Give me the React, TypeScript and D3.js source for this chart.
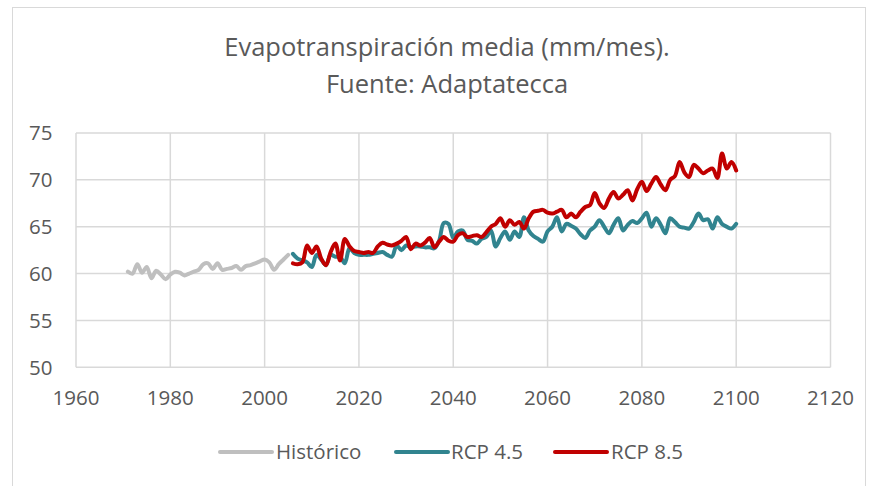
import React from "react";
import * as d3 from "d3";

const title1 = "Evapotranspiración media (mm/mes).";
const title2 = "Fuente: Adaptatecca";

const xTicks = [1960, 1980, 2000, 2020, 2040, 2060, 2080, 2100, 2120];
const yTicks = [50, 55, 60, 65, 70, 75];

const histStart = 1971;
const historico = [
  60.2, 60.0, 61.0, 60.1, 60.7, 59.5, 60.3, 59.9, 59.4, 59.9,
  60.2, 60.1, 59.8, 60.0, 60.2, 60.4, 61.0, 61.1, 60.5, 61.1,
  60.4, 60.5, 60.6, 60.8, 60.4, 60.8, 60.9, 61.1, 61.3, 61.5,
  61.2, 60.4, 61.0, 61.5, 62.0,
];

const rcpStart = 2006;
const rcp45 = [
  62.1, 61.6, 61.4, 61.2, 60.7, 62.0, 61.5, 60.9, 62.0, 61.8,
  61.8, 61.1, 62.7, 62.2, 62.0, 62.0, 62.0, 62.1, 62.2, 62.3,
  62.0, 61.8, 63.0, 62.5, 63.0, 62.8, 62.9, 62.9, 62.8, 62.8,
  62.7, 63.5, 65.4, 65.3, 63.8, 64.5, 64.6, 63.6, 63.5, 63.2,
  63.7, 63.9, 64.6, 62.9, 63.8, 64.5, 63.6, 64.5, 63.9, 66.0,
  64.6, 64.0, 63.7, 63.4, 64.5, 65.0, 66.0, 64.5, 65.3, 65.1,
  64.8, 64.2, 63.8, 64.6, 65.0, 65.7, 65.0, 64.3, 65.2, 65.9,
  64.6, 65.2, 65.6, 65.4, 65.9, 66.5, 65.0, 65.9, 65.2, 64.3,
  65.9, 65.5, 65.0, 64.9, 64.8, 65.5, 66.4, 65.7, 65.8, 64.8,
  66.0, 65.3, 65.0, 64.8, 65.3,
];
const rcp85 = [
  61.1, 61.0, 61.2, 63.0, 62.2, 62.9, 61.6, 60.9, 62.3, 63.2,
  61.4, 63.7, 62.9, 62.4, 62.3, 62.2, 62.3, 62.2, 62.9, 63.3,
  63.1, 63.0, 63.2, 63.5, 63.9, 62.6, 63.2, 63.0, 63.3, 63.8,
  62.8, 63.4, 63.9, 63.5, 63.4, 64.1, 64.3, 63.9, 64.0, 64.1,
  63.9, 64.4, 65.0, 65.3, 65.9, 65.0, 65.7, 65.2, 65.5, 64.8,
  65.9, 66.6, 66.7, 66.8, 66.5, 66.4, 66.6, 66.8, 66.0, 66.4,
  66.0, 66.6, 67.1, 67.3, 68.6, 67.5, 67.0, 68.0, 68.7, 68.0,
  68.4, 68.9, 67.8, 69.0, 69.8, 68.8, 69.6, 70.3, 69.5, 68.9,
  70.0, 70.4, 71.9, 70.8, 70.3, 71.6, 71.2, 70.7, 71.0, 71.2,
  70.2, 72.8, 71.2, 71.9, 71.0,
];

const seriesNames = ["Histórico", "RCP 4.5", "RCP 8.5"];
const seriesColors = ["#BFBFBF", "#31848F", "#C00000"];

const W = 870;
const H = 486;
const FONT = "'Open Sans', sans-serif";
const TEXT = "#595959";
const GRID = "#D9D9D9";

export default function App() {
  const x = d3.scaleLinear().domain([1960, 2120]).range([76, 830.5]);
  const y = d3.scaleLinear().domain([50, 75]).range([367.3, 133]);

  const toPts = (start: number, vals: number[]) =>
    vals.map((v, i) => [start + i, v] as [number, number]);

  const data = [
    toPts(histStart, historico),
    toPts(rcpStart, rcp45),
    toPts(rcpStart, rcp85),
  ];

  const line = d3
    .line<[number, number]>()
    .x((d) => x(d[0]))
    .y((d) => y(d[1]))
    .curve(d3.curveCatmullRom.alpha(0.5));

  const legendItems = [
    { lx: 220, tx: 276 },
    { lx: 396, tx: 451 },
    { lx: 555, tx: 611 },
  ];

  return (
    <svg
      width={W}
      height={H}
      style={{ position: "absolute", left: 0, top: 0, background: "#fff" }}
      fontFamily={FONT}
    >
      <rect x={0} y={0} width={W} height={H} fill="#fff" />
      <rect
        x={12.5}
        y={7.5}
        width={853}
        height={520}
        fill="none"
        stroke={GRID}
        strokeWidth={1}
      />
      <text x={447} y={56} textAnchor="middle" fontSize={25.5} fill={TEXT}>
        {title1}
      </text>
      <text x={447} y={93} textAnchor="middle" fontSize={25.5} fill={TEXT}>
        {title2}
      </text>

      {yTicks.map((t) => (
        <g key={"y" + t}>
          <line
            x1={x(1960)}
            x2={x(2120)}
            y1={y(t)}
            y2={y(t)}
            stroke={GRID}
            strokeWidth={1.5}
          />
          <text
            x={52.5}
            y={y(t)}
            dy="0.36em"
            textAnchor="end"
            fontSize={20.5}
            fill={TEXT}
          >
            {t}
          </text>
        </g>
      ))}
      {xTicks.map((t) => (
        <g key={"x" + t}>
          <line
            x1={x(t)}
            x2={x(t)}
            y1={y(75)}
            y2={y(50)}
            stroke={GRID}
            strokeWidth={1.5}
          />
          <text
            x={x(t)}
            y={405}
            textAnchor="middle"
            fontSize={20.5}
            fill={TEXT}
          >
            {t}
          </text>
        </g>
      ))}

      {data.map((d, i) => (
        <path
          key={"s" + i}
          d={line(d) || ""}
          fill="none"
          stroke={seriesColors[i]}
          strokeWidth={4}
          strokeLinejoin="round"
          strokeLinecap="round"
        />
      ))}

      {legendItems.map((it, i) => (
        <g key={"l" + i}>
          <line
            x1={it.lx}
            x2={it.lx + 52}
            y1={452}
            y2={452}
            stroke={seriesColors[i]}
            strokeWidth={4}
            strokeLinecap="round"
          />
          <text x={it.tx} y={459} fontSize={20.5} fill={TEXT}>
            {seriesNames[i]}
          </text>
        </g>
      ))}
    </svg>
  );
}
